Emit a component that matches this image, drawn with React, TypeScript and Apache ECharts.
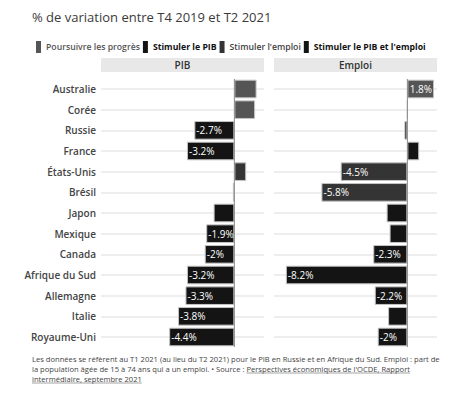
import React, { useEffect, useRef } from "react";
import * as echarts from "echarts";

const categories = [
  "Australie",
  "Corée",
  "Russie",
  "France",
  "États-Unis",
  "Brésil",
  "Japon",
  "Mexique",
  "Canada",
  "Afrique du Sud",
  "Allemagne",
  "Italie",
  "Royaume-Uni",
];
const pibValues = [1.5, 1.4, -2.7, -3.2, 0.8, -0.1, -1.4, -1.9, -2.0, -3.2, -3.3, -3.8, -4.4];
const emploiValues = [1.8, 0.0, -0.2, 0.8, -4.5, -5.8, -1.4, -1.2, -2.3, -8.2, -2.2, -1.3, -2.0];
const groups = [
  "Poursuivre les progrès",
  "Stimuler le PIB",
  "Stimuler l'emploi",
  "Stimuler le PIB et l'emploi",
];
const countryGroup = [0, 0, 1, 1, 2, 2, 3, 3, 3, 3, 3, 3, 3];
const groupColors = ["#555555", "#141414", "#343434", "#141414"];
const panelTitles = ["PIB", "Emploi"];
const titleText = "% de variation entre T4 2019 et T2 2021";
const footLine1 =
  "Les données se réfèrent au T1 2021 (au lieu du T2 2021) pour le PIB en Russie et en Afrique du Sud. Emploi : part de";
const footLine2a = "la population âgée de 15 à 74 ans qui a un emploi. • Source : ";
const footLine2b = "Perspectives économiques de l'OCDE, Rapport";
const footLine3 = "intermédiaire, septembre 2021";

const FONT = '"Open Sans", "Noto Sans", sans-serif';
const GRID_LEFT = [101, 274];
const GRID_W = 163;
const GRID_TOP = 89;
const GRID_H = 248;
const FOOT_SIZE = 7.6;

function measure(text: string, size: number): number {
  const c = document.createElement("canvas").getContext("2d");
  if (!c) return text.length * size * 0.5;
  c.font = `${size}px "Open Sans"`;
  return c.measureText(text).width;
}

export default function App() {
  const ref = useRef<HTMLDivElement>(null);
  useEffect(() => {
    document.body.style.margin = "0";
    if (!ref.current) return;
    const chart = echarts.init(ref.current, null, { renderer: "svg" });
    const panels = [pibValues, emploiValues];
    const series: any[] = [];
    panels.forEach((vals, p) => {
      groups.forEach((g, gi) => {
        series.push({
          type: "bar",
          name: g,
          xAxisIndex: p,
          yAxisIndex: p,
          stack: "panel" + p,
          clip: false,
          barCategoryGap: "10%",
          itemStyle: { color: groupColors[gi], borderColor: "#c4c4c4", borderWidth: 1 },
          data: vals.map((v, i) =>
            countryGroup[i] === gi
              ? {
                  value: v,
                  label: {
                    show: Math.abs(v) >= 1.7,
                    position: v < 0 ? "insideLeft" : "insideRight",
                    distance: 2,
                    formatter: () => `${v}%`,
                    color: "#ffffff",
                    fontSize: 10,
                    fontFamily: FONT,
                  },
                }
              : "-"
          ),
        });
      });
    });

    const xAxis = [0, 1].map((p) => ({
      type: "value",
      gridIndex: p,
      min: -9,
      max: 2,
      axisLine: { show: false },
      axisTick: { show: false },
      axisLabel: { show: false },
      splitLine: { show: false },
    }));
    const yAxis = [0, 1].map((p) => ({
      type: "category",
      gridIndex: p,
      data: categories,
      inverse: true,
      boundaryGap: false,
      axisLine: { show: false },
      axisTick: { show: false },
      splitLine: { show: true, lineStyle: { color: "#e9e9e9", width: 1.5 } },
      axisLabel: {
        show: p === 0,
        interval: 0,
        margin: 5,
        color: "#444444",
        fontSize: 10,
        fontWeight: 600,
        fontFamily: FONT,
      },
    }));

    const w2a = measure(footLine2a, FOOT_SIZE);
    const w2b = measure(footLine2b, FOOT_SIZE);
    const w3 = measure(footLine3, FOOT_SIZE);

    const baseGraphic: any[] = [
      {
        type: "text",
        x: 32,
        y: 17,
        style: {
          text: titleText,
          fontSize: 13,
          fontFamily: FONT,
          fill: "#3a3a3a",
          textVerticalAlign: "middle",
        },
      },
      ...[0, 1].flatMap((p) => [
        {
          type: "rect",
          shape: { x: GRID_LEFT[p], y: 58, width: GRID_W, height: 14 },
          style: { fill: "#e8e8e8" },
        },
        {
          type: "text",
          x: GRID_LEFT[p] + GRID_W / 2,
          y: 65,
          style: {
            text: panelTitles[p],
            fontSize: 10,
            fontWeight: 600,
            fontFamily: FONT,
            fill: "#333333",
            textAlign: "center",
            textVerticalAlign: "middle",
          },
        },
      ]),
      {
        type: "text",
        x: 32,
        y: 359,
        style: { text: footLine1, fontSize: FOOT_SIZE, fontFamily: FONT, fill: "#444444", textVerticalAlign: "middle" },
      },
      {
        type: "text",
        x: 32,
        y: 369,
        style: { text: footLine2a, fontSize: FOOT_SIZE, fontFamily: FONT, fill: "#444444", textVerticalAlign: "middle" },
      },
      {
        type: "text",
        x: 32 + w2a,
        y: 369,
        style: { text: footLine2b, fontSize: FOOT_SIZE, fontFamily: FONT, fill: "#444444", textVerticalAlign: "middle" },
      },
      {
        type: "line",
        shape: { x1: 32 + w2a, y1: 373, x2: 32 + w2a + w2b, y2: 373 },
        style: { stroke: "#666666", lineWidth: 0.6 },
      },
      {
        type: "text",
        x: 32,
        y: 379,
        style: { text: footLine3, fontSize: FOOT_SIZE, fontFamily: FONT, fill: "#444444", textVerticalAlign: "middle" },
      },
      {
        type: "line",
        shape: { x1: 32, y1: 383, x2: 32 + w3, y2: 383 },
        style: { stroke: "#666666", lineWidth: 0.6 },
      },
    ];

    const option: any = {
      animation: false,
      backgroundColor: "#ffffff",
      textStyle: { fontFamily: FONT },
      legend: {
        left: 31,
        top: 36,
        width: 420,
        itemWidth: 5,
        itemHeight: 12,
        itemGap: 3,
        icon: "rect",
        selectedMode: false,
        itemStyle: { borderWidth: 0 },
        data: groups.map((g, gi) => ({
          name: g,
          itemStyle: { borderWidth: 0 },
          textStyle: {
            fontSize: 8.7,
            fontFamily: FONT,
            color: gi % 2 === 0 ? (gi === 0 ? "#555555" : "#3f3f3f") : "#111111",
            fontWeight: gi % 2 === 0 ? 600 : 700,
          },
        })),
      },
      grid: [0, 1].map((p) => ({
        left: GRID_LEFT[p],
        top: GRID_TOP,
        width: GRID_W,
        height: GRID_H,
        containLabel: false,
      })),
      xAxis,
      yAxis,
      series,
      graphic: baseGraphic,
    };
    chart.setOption(option);

    const zeroLines = [0, 1].map((p) => {
      const x0 = chart.convertToPixel({ xAxisIndex: p }, 0) as number;
      return {
        type: "line",
        z: 100,
        shape: { x1: x0, y1: 79, x2: x0, y2: 347 },
        style: { stroke: "#8a8a8a", lineWidth: 1 },
      };
    });
    chart.setOption({ graphic: [...baseGraphic, ...zeroLines] });

    return () => chart.dispose();
  }, []);
  return <div ref={ref} style={{ width: 451, height: 399 }} />;
}
